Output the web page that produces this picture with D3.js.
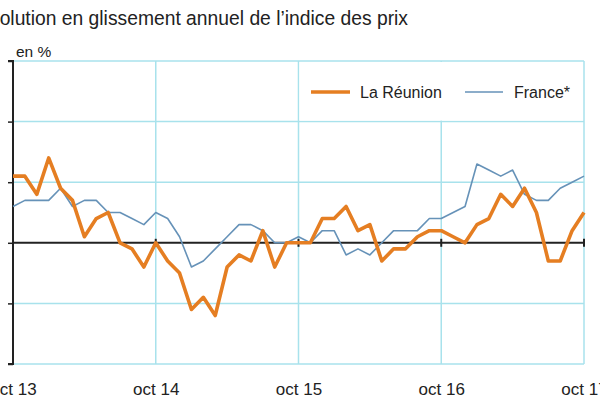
<!DOCTYPE html>
<html><head><meta charset="utf-8">
<script src="https://cdn.jsdelivr.net/npm/d3@7"></script>
<style>body{margin:0;background:#fff;}svg{display:block;font-family:"Liberation Sans",Arial,sans-serif;}</style>
</head><body>
<svg id="c" width="600" height="400"></svg>
<script>
const title = "Évolution en glissement annuel de l’indice des prix";
const unitLabel = "en %";
const seriesNames = ["La Réunion", "France*"];
const startMonth = "2013-10";
const reunion = [1.1,1.1,0.8,1.4,0.9,0.7,0.1,0.4,0.5,0.0,-0.1,-0.4,0.0,-0.3,-0.5,-1.1,-0.9,-1.2,-0.4,-0.2,-0.3,0.2,-0.4,0.0,0.0,0.0,0.4,0.4,0.6,0.2,0.3,-0.3,-0.1,-0.1,0.1,0.2,0.2,0.1,0.0,0.3,0.4,0.8,0.6,0.9,0.5,-0.3,-0.3,0.2,0.5];
const france = [0.6,0.7,0.7,0.7,0.9,0.6,0.7,0.7,0.5,0.5,0.4,0.3,0.5,0.4,0.1,-0.4,-0.3,-0.1,0.1,0.3,0.3,0.2,0.0,0.0,0.1,0.0,0.2,0.2,-0.2,-0.1,-0.2,0.0,0.2,0.2,0.2,0.4,0.4,0.5,0.6,1.3,1.2,1.1,1.2,0.8,0.7,0.7,0.9,1.0,1.1];
const xTickIdx = [0,12,24,36,48];
const xTickLabels = ["oct 13","oct 14","oct 15","oct 16","oct 17"];
const yTicks = [-2,-1,0,1,2,3];

const svg = d3.select("#c");
const L = 13, R = 584, T = 61, B = 364;
const x = d3.scaleLinear().domain([0, reunion.length - 1]).range([L, R]);
const y = d3.scaleLinear().domain([-2, 3]).range([B, T]);
const grid = "#a8e2ec";

// title (left part falls off the canvas, as in the reference)
svg.append("text").attr("x", 408).attr("y", 25).attr("text-anchor", "end")
  .attr("font-size", 19.3).attr("fill", "#222").text(title);
svg.append("text").attr("x", 16).attr("y", 57).attr("font-size", 15.5).attr("fill", "#222").text(unitLabel);

// horizontal grid
svg.append("g").selectAll("line").data(yTicks.filter(d => d !== 0)).join("line")
  .attr("x1", L).attr("x2", R).attr("y1", d => y(d)).attr("y2", d => y(d))
  .attr("stroke", grid).attr("stroke-width", 1.5);
// vertical grid
svg.append("g").selectAll("line").data(xTickIdx.slice(1)).join("line")
  .attr("x1", d => x(d)).attr("x2", d => x(d)).attr("y1", T).attr("y2", B)
  .attr("stroke", grid).attr("stroke-width", 1.5);

// legend box (white, covers grid)
const lg = svg.append("g");
lg.append("rect").attr("x", x(24) + 1).attr("y", y(3) + 1).attr("width", R - x(24) - 2).attr("height", y(2) - y(3) - 2).attr("fill", "#fff");
lg.append("line").attr("x1", 311).attr("x2", 350).attr("y1", 92).attr("y2", 92).attr("stroke", "#e57e22").attr("stroke-width", 3.5);
lg.append("text").attr("x", 360).attr("y", 98).attr("font-size", 16).attr("fill", "#222").text(seriesNames[0]);
lg.append("line").attr("x1", 465).attr("x2", 503).attr("y1", 92).attr("y2", 92).attr("stroke", "#6692b8").attr("stroke-width", 1.5);
lg.append("text").attr("x", 514).attr("y", 98).attr("font-size", 16).attr("fill", "#222").text(seriesNames[1]);

// left axis
const yAxis = d3.axisLeft(y).tickValues(yTicks).tickSize(5).tickFormat("");
const ya = svg.append("g").attr("transform", `translate(${L},0)`).call(yAxis);
ya.select(".domain").attr("stroke", "#222").attr("stroke-width", 2).attr("d", `M-5,${T}H0V${B}H-5`);
ya.selectAll(".tick line").attr("stroke", "#222").attr("stroke-width", 1.5);

// zero line
svg.append("line").attr("x1", L).attr("x2", R).attr("y1", y(0)).attr("y2", y(0)).attr("stroke", "#222").attr("stroke-width", 2);
svg.append("g").selectAll("line").data(xTickIdx.slice(1)).join("line")
  .attr("x1", d => x(d)).attr("x2", d => x(d)).attr("y1", y(0) - 4).attr("y2", y(0) + 4)
  .attr("stroke", "#222").attr("stroke-width", 2);

// x labels
const xAxis = d3.axisBottom(x).tickValues(xTickIdx).tickSize(0).tickFormat((d, i) => xTickLabels[i]);
const xa = svg.append("g").attr("transform", `translate(0,${B})`).call(xAxis);
xa.select(".domain").remove();
xa.selectAll("text").attr("font-size", 17).attr("fill", "#222").attr("dy", 0).attr("y", 31)
  .attr("font-family", "Liberation Sans, Arial, sans-serif");

// lines
const line = d3.line().x((d, i) => x(i)).y(d => y(d));
svg.append("path").datum(france).attr("d", line).attr("fill", "none")
  .attr("stroke", "#6692b8").attr("stroke-width", 1.6).attr("stroke-linejoin", "round");
svg.append("path").datum(reunion).attr("d", line).attr("fill", "none")
  .attr("stroke", "#e57e22").attr("stroke-width", 3.6).attr("stroke-linejoin", "round");
</script>
</body></html>
